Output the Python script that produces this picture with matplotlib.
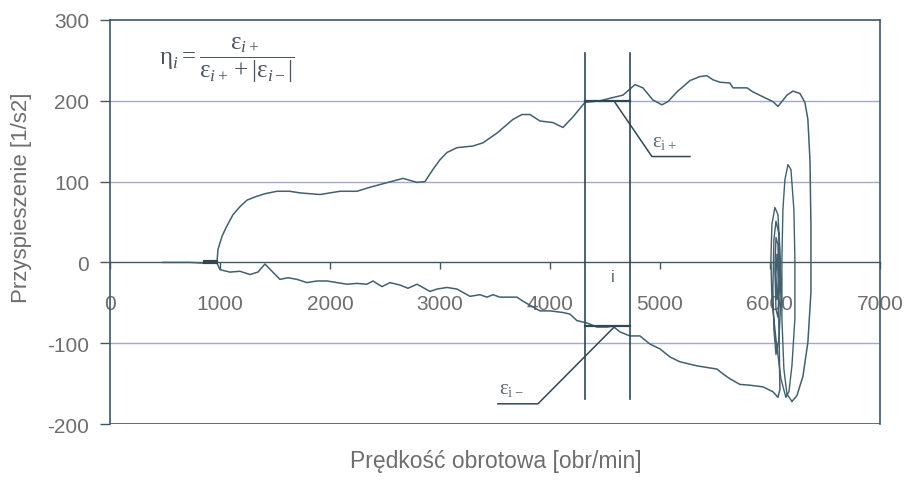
"""
    Acceleration vs rotational speed: run-up, oscillation and coast-down
"""

import matplotlib
matplotlib.use('Agg')
import matplotlib.pyplot as plt

plt.rcParams['font.family'] = ['Liberation Sans', 'DejaVu Sans']
plt.rcParams['axes.unicode_minus'] = False
plt.rcParams['mathtext.fontset'] = 'custom'
plt.rcParams['mathtext.rm'] = 'Liberation Serif'
plt.rcParams['mathtext.it'] = 'Liberation Serif:italic'
plt.rcParams['mathtext.default'] = 'rm'

# run-up branch (speed rising)
up_rpm = [482, 727, 864, 909, 955, 973, 982, 1018, 1055, 1118, 1182, 1245, 1318,
          1409, 1518, 1636, 1727, 1818, 1909, 2000, 2091, 2245, 2364, 2500, 2664,
          2791, 2864, 2936, 3000, 3064, 3155, 3300, 3391, 3518, 3664, 3745, 3818,
          3909, 4027, 4118, 4209, 4318, 4455, 4573, 4664, 4773, 4845, 4936, 5018,
          5073, 5155, 5273, 5364, 5427, 5482, 5545, 5636, 5664, 5791, 5845, 5936,
          6027, 6073, 6155, 6209, 6273, 6318, 6345, 6364, 6373, 6373, 6345, 6300,
          6245, 6200]
up_acc = [0, 0, -1, 1, -1, 1, 16, 32, 43, 59, 69, 77, 81,
          85, 88, 88, 86, 85, 84, 86, 88, 88, 93, 98, 104,
          99, 100, 115, 127, 136, 142, 144, 148, 160, 177, 183, 183,
          175, 173, 167, 180, 198, 200, 204, 207, 220, 216, 201, 195,
          199, 211, 225, 230, 231, 226, 223, 222, 216, 216, 211, 205,
          199, 193, 207, 212, 209, 198, 177, 127, 44, -37, -99, -141,
          -165, -172]

# oscillation around the set speed
osc_rpm = [6200, 6155, 6127, 6109, 6109, 6118, 6136, 6164, 6191, 6218, 6227, 6227,
           6200, 6173, 6145, 6100, 6055, 6018, 6009, 6018, 6045, 6073, 6091, 6100,
           6082, 6055, 6036, 6027, 6036, 6055, 6082, 6091, 6073, 6055, 6045, 6055,
           6073, 6082, 6064, 6055, 6064, 6073]
osc_acc = [-172, -163, -132, -70, 4, 65, 102, 121, 115, 65, 4, -70,
           -128, -160, -167, -144, -95, -46, 4, 47, 68, 59, 16, -46,
           -95, -114, -83, -33, 28, 51, 35, -21, -68, -58, -9, 31,
           22, -21, -46, -15, 10, -9]

# coast-down branch (speed falling)
down_rpm = [973, 1000, 1091, 1182, 1273, 1345, 1409, 1473, 1545, 1618, 1700, 1791,
            1882, 1973, 2064, 2155, 2245, 2336, 2391, 2473, 2545, 2636, 2709, 2791,
            2845, 2909, 2973, 3064, 3155, 3273, 3364, 3427, 3482, 3545, 3700, 3755,
            3818, 3909, 4000, 4118, 4182, 4245, 4336, 4427, 4518, 4573, 4636, 4727,
            4818, 4909, 5000, 5091, 5182, 5336, 5427, 5518, 5573, 5636, 5727, 5818,
            5936, 6027, 6073, 6091, 6082, 6073]
down_acc = [-1, -9, -12, -11, -15, -12, -2, -11, -21, -19, -21, -25,
            -23, -23, -25, -27, -26, -27, -23, -30, -25, -28, -32, -27,
            -31, -36, -33, -31, -33, -42, -40, -43, -40, -43, -43, -48,
            -53, -60, -60, -62, -64, -72, -75, -80, -80, -79, -86, -91,
            -91, -101, -107, -117, -123, -128, -130, -132, -138, -144, -151, -152,
            -154, -160, -167, -157, -83, -9]

# window i and the two read-off levels
win_rpm = [4318, 4727]
eps_plus = 200
eps_minus = -79

line_c = '#42606e'
text_c = '#6e6e6e'
frame_c = '#3e5868'
grid_c = '#a3abc8'
mark_c = '#2f4856'

fig = plt.figure(figsize=(9.09, 4.81), dpi=100)
ax = fig.add_axes([0.121, 0.1164, 0.847, 0.84])

# grid
for g in [100, 200, -100]:
    ax.axhline(g, color=grid_c, lw=1.0, zorder=1)
ax.axhline(-200, color=frame_c, lw=1.2, zorder=2)

# curves
ax.plot(up_rpm, up_acc, color=line_c, lw=1.1, zorder=3)
ax.plot(osc_rpm, osc_acc, color=line_c, lw=1.0, zorder=3)
ax.plot(down_rpm, down_acc, color=line_c, lw=1.1, zorder=3)
ax.plot([860, 960], [0, 0], color='#34454f', lw=3, zorder=3)

# window lines
for w in win_rpm:
    ax.plot([w, w], [-169, 259], color=mark_c, lw=1.2, zorder=4)
ax.plot(win_rpm, [eps_plus, eps_plus], color=mark_c, lw=1.6, zorder=4)
ax.plot(win_rpm, [eps_minus, eps_minus], color=mark_c, lw=1.6, zorder=4)

# leaders
ax.plot([4591, 4927, 5273], [198, 131, 131], color=mark_c, lw=1.1, zorder=4)
ax.plot([4591, 3891, 3527], [-79, -175, -175], color=mark_c, lw=1.1, zorder=4)
ax.text(4930, 150, r'$\varepsilon_{i+}$', fontsize=15, color='#5a6a78', va='center')
ax.text(3540, -156, r'$\varepsilon_{i-}$', fontsize=15, color='#5a6a78', va='center')
ax.text(4573, -17, 'i', fontsize=12, color='#5a6a78', ha='center', va='center')

# formula
ax.text(450, 251, r'$\eta_{\mathit{i}} = \dfrac{\varepsilon_{\mathit{i}+}}{\varepsilon_{\mathit{i}+} + |\varepsilon_{\mathit{i}-}|}$',
        fontsize=18, color='#4a5560', va='center')

# axes
ax.set_xlim(0, 7000)
ax.set_ylim(-200, 300)
ax.set_xticks(range(0, 7001, 1000))
ax.set_yticks(range(-200, 301, 100))
ax.spines['bottom'].set_position(('data', 0))
for s in ax.spines.values():
    s.set_color(frame_c)
    s.set_linewidth(1.2)
ax.spines['bottom'].set_linewidth(1.0)
ax.tick_params(axis='x', direction='out', length=5, width=1, color=frame_c,
               labelsize=15, labelcolor=text_c, pad=18)
ax.tick_params(axis='y', direction='out', length=7, width=1, color=frame_c,
               labelsize=15, labelcolor=text_c, pad=8)
fig.text(0.024, 0.588, 'Przyspieszenie [1/s2]', fontsize=16, color=text_c,
         rotation=90, ha='center', va='center')
fig.text(0.545, 0.04, 'Prędkość obrotowa [obr/min]', fontsize=16.5, color=text_c,
         ha='center', va='center')

fig.savefig('out.png', dpi=100)
